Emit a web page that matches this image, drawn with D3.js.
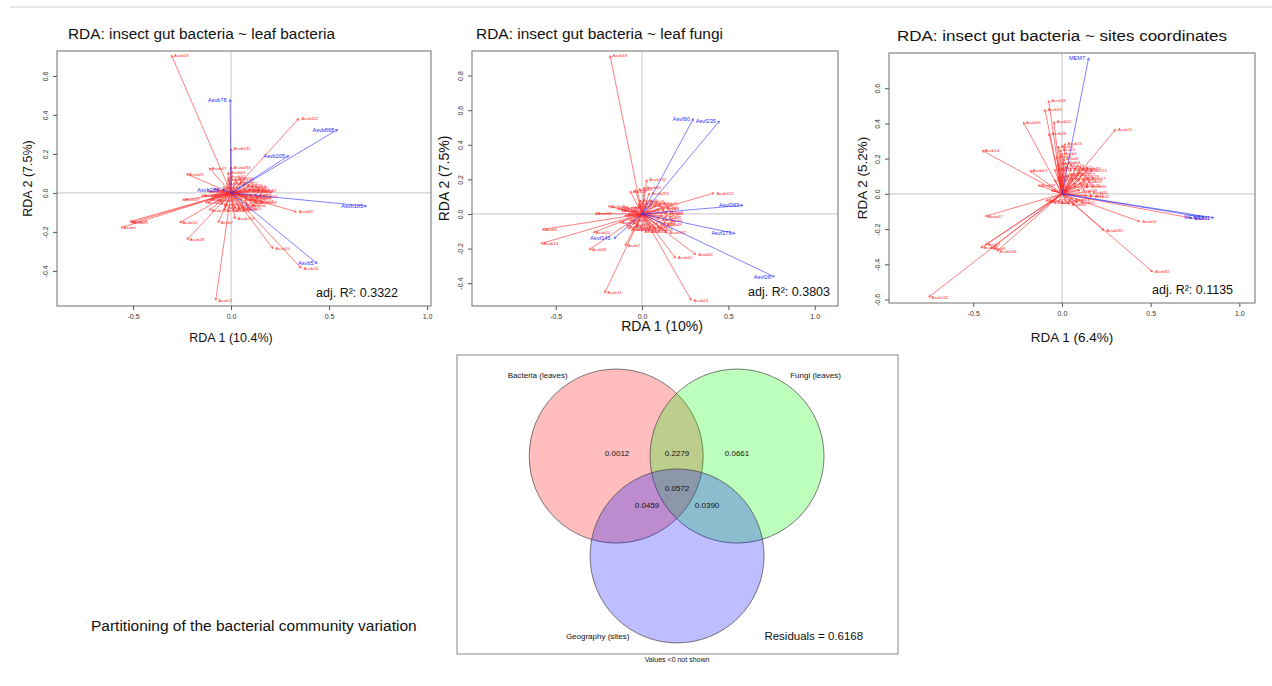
<!DOCTYPE html>
<html>
<head>
<meta charset="utf-8">
<script src="https://cdn.jsdelivr.net/npm/d3@7"></script>
<style>
body { margin: 0; background: #fff; }
svg { display: block; font-family: "Liberation Sans", Arial, Helvetica, sans-serif; }
</style>
</head>
<body>
<div id="chart"></div>
<script>
// RDA biplots + variation partitioning

// ---- data ----
var p1Titles = ["RDA: insect gut bacteria ~ leaf bacteria", "RDA 1 (10.4%)", "RDA 2 (7.5%)", "0.3322"];
var p2Titles = ["RDA: insect gut bacteria ~ leaf fungi", "RDA 1 (10%)", "RDA 2 (7.5%)", "0.3803"];
var p3Titles = ["RDA: insect gut bacteria ~ sites coordinates", "RDA 1 (6.4%)", "RDA 2 (5.2%)", "0.1135"];

var xTicks = [-0.5, 0, 0.5, 1];
var p1YTicks = [-0.4, -0.2, 0, 0.2, 0.4, 0.6];
var p2YTicks = [-0.4, -0.2, 0, 0.2, 0.4, 0.6, 0.8];
var p3YTicks = [-0.6, -0.4, -0.2, 0, 0.2, 0.4, 0.6];

// gut bacteria scores (red) for plot 1
var p1Species = [
 ["Asvb18",-0.304,0.706],["Asvb312",0.345,0.381],["Asvb132",0.0,0.226],["Asvb47",-0.111,0.128],
 ["Asvb493",0.0,0.133],["Asvb65",-0.014,0.106],["Asvb30",-0.014,0.082],["Asvb25",-0.227,0.097],
 ["Asvb37",-0.247,-0.036],["Asvb13",-0.517,-0.147],["Asvb71",-0.51,-0.152],["Asvb5",-0.56,-0.178],
 ["Asvb20",-0.261,-0.152],["Asvb28",-0.224,-0.239],["Asvb211",-0.111,-0.089],["Asvb7",-0.065,-0.152],
 ["Asvb213",0.02,-0.133],["Asvb282",0.135,-0.051],["Asvb82",0.333,-0.097],["Asvb10",0.213,-0.285],
 ["Asvb24",0.357,-0.385],["Asvb11",-0.078,-0.55],
 ["Asvb2",0.14,0.005],["Asvb3",0.13,-0.01],["Asvb4",0.12,0.02],["Asvb6",0.135,-0.025],
 ["Asvb8",0.11,0.03],["Asvb9",0.1,-0.04],["Asvb12",0.125,0.01],["Asvb15",0.09,0.035],
 ["Asvb16",0.08,-0.05],["Asvb17",0.105,-0.015],["Asvb19",0.07,0.04],["Asvb21",0.06,-0.06],
 ["Asvb22",0.05,0.05],["Asvb23",0.115,-0.03],["Asvb26",0.095,0.015],["Asvb27",0.085,-0.02],
 ["Asvb29",0.04,-0.07],["Asvb31",0.03,0.06],["Asvb32",0.02,-0.08],["Asvb33",-0.02,0.05],
 ["Asvb34",-0.04,0.03],["Asvb35",-0.06,0.01],["Asvb36",-0.08,-0.01],["Asvb38",-0.1,-0.02],
 ["Asvb39",-0.07,-0.04],["Asvb40",-0.05,-0.06],["Asvb41",-0.03,-0.075],["Asvb42",0.01,-0.09],
 ["Asvb43",0.065,-0.08],["Asvb44",0.045,-0.085],["Asvb45",-0.09,0.02],["Asvb46",-0.12,0.01],
 ["Asvb48",-0.11,-0.035],["Asvb49",0.075,0.02],["Asvb50",0.055,-0.035],["Asvb51",0.15,-0.02],
 ["Asvb52",0.145,0.015],["Asvb53",-0.015,0.07],["Asvb54",0.025,0.075],["Asvb55",-0.035,-0.09],
 ["Asvb56",0.09,-0.065],["Asvb57",0.13,-0.045],["Asvb58",-0.13,-0.05],["Asvb59",-0.15,-0.015]
];
// leaf bacteria (blue) for plot 1
var p1Env = [
 ["Asvb78",-0.005,0.479],["Asvb868",0.544,0.325],["Asvb205",0.294,0.191],
 ["Asvb105",0.691,-0.068],["Asvb5",0.439,-0.362],["Asvb288",-0.043,0.017]
];

var p2Species = [
 ["Asvb18",-0.185,0.915],["Asvb132",0.027,0.198],["Asvb90",0.012,0.154],["Asvb493",0.042,0.121],
 ["Asvb65",-0.037,0.14],["Asvb47",-0.069,0.131],["Asvb312",0.417,0.121],["Asvb25",-0.195,0.044],
 ["Asvb120",-0.012,0.05],["Asvb91",-0.272,0.002],["Asvb5",-0.577,-0.09],["Asvb14",-0.585,-0.171],
 ["Asvb20",-0.282,-0.106],["Asvb28",-0.305,-0.206],["Asvb7",-0.097,-0.183],["Asvb211",-0.079,-0.087],
 ["Asvb213",-0.05,-0.09],["Asvb282",0.143,-0.106],["Asvb10",0.193,-0.254],["Asvb82",0.311,-0.235],
 ["Asvb11",-0.216,-0.456],["Asvb24",0.284,-0.498],
 ["Asvb2",0.15,0.01],["Asvb3",0.14,-0.02],["Asvb4",0.13,0.03],["Asvb6",0.15,-0.035],
 ["Asvb8",0.12,0.04],["Asvb9",0.11,-0.05],["Asvb12",0.1,0.02],["Asvb15",0.09,-0.06],
 ["Asvb16",0.08,0.05],["Asvb17",0.07,-0.07],["Asvb19",0.06,0.06],["Asvb21",0.12,-0.01],
 ["Asvb22",0.1,-0.03],["Asvb23",0.05,-0.08],["Asvb26",0.03,0.07],["Asvb27",0.02,-0.09],
 ["Asvb29",-0.02,0.06],["Asvb30",-0.04,0.04],["Asvb31",-0.06,0.02],["Asvb33",-0.08,0.0],
 ["Asvb34",-0.1,-0.01],["Asvb35",-0.12,0.02],["Asvb36",-0.07,-0.04],["Asvb37",-0.05,-0.06],
 ["Asvb38",-0.03,-0.08],["Asvb39",0.0,-0.1],["Asvb40",0.04,-0.1],["Asvb41",-0.09,-0.07],
 ["Asvb42",-0.13,-0.05],["Asvb43",-0.14,0.03],["Asvb44",0.08,-0.09],["Asvb45",0.11,0.06],
 ["Asvb46",-0.01,0.08],["Asvb48",0.14,0.005],["Asvb49",0.13,-0.06],["Asvb50",-0.11,0.04]
];
var p2Env = [
 ["Asvf90",0.297,0.55],["Asvf235",0.448,0.537],["Asvf263",0.583,0.05],
 ["Asvf173",0.539,-0.113],["Asvf28",0.766,-0.363],["Asvf145",-0.162,-0.142]
];

var p3Species = [
 ["Asvb11",0.302,0.365],["Asvb18",-0.075,0.529],["Asvb31",-0.096,0.478],["Asvb55",-0.217,0.406],
 ["Asvb20",-0.045,0.41],["Asvb28",-0.073,0.342],["Asvb25",0.017,0.285],["Asvb14",-0.45,0.246],
 ["Asvb63",-0.18,0.132],["Asvb213",0.142,0.132],["Asvb37",-0.133,0.049],["Asvb47",-0.431,-0.127],
 ["Asvb10",0.438,-0.157],["Asvb282",0.236,-0.208],["Asvb82",0.51,-0.442],["Asvb48",-0.457,-0.306],
 ["Asvb106",-0.367,-0.325],["Asvb132",-0.751,-0.586],["Asvb24",0.733,-0.138],
 ["Asvb5",-0.40,-0.31],["Asvb7",-0.43,-0.29],
 ["Asvb2",-0.02,0.27],["Asvb3",-0.01,0.25],["Asvb4",0.0,0.23],["Asvb6",-0.03,0.21],
 ["Asvb8",0.01,0.2],["Asvb9",0.02,0.18],["Asvb12",-0.02,0.17],["Asvb15",0.03,0.16],
 ["Asvb16",0.0,0.15],["Asvb17",-0.04,0.14],["Asvb19",0.05,0.14],["Asvb21",0.08,0.15],
 ["Asvb22",0.1,0.14],["Asvb23",0.12,0.145],["Asvb26",0.07,0.12],["Asvb27",0.09,0.11],
 ["Asvb29",0.11,0.1],["Asvb30",0.06,0.09],["Asvb32",0.1,0.08],["Asvb33",0.13,0.07],
 ["Asvb34",0.08,0.06],["Asvb35",0.12,0.05],["Asvb36",0.15,0.04],["Asvb38",0.05,0.04],
 ["Asvb39",0.1,0.02],["Asvb40",0.16,0.01],["Asvb41",0.14,-0.01],["Asvb42",0.17,-0.015],
 ["Asvb43",0.06,-0.03],["Asvb44",0.02,-0.04],["Asvb45",-0.02,-0.05],["Asvb46",-0.06,-0.05],
 ["Asvb49",-0.09,-0.04],["Asvb50",0.04,-0.06],["Asvb51",0.09,-0.05],["Asvb52",-0.04,0.08],
 ["Asvb53",-0.06,0.02],["Asvb54",-0.02,0.1],["Asvb56",0.03,0.11],["Asvb57",0.15,0.09]
];
var p3Env = [["MEM7",0.15,0.771],["MEM1",0.855,-0.136],["MEM3",0.80,-0.133]];

// variation partitioning
var vennSets = ["Bacteria (leaves)", "Fungi (leaves)", "Geography (sites)"];
var vennFractions = ["0.0012", "0.2279", "0.0661", "0.0572", "0.0459", "0.0390"];
var vennResidual = "0.6168";

// ---- drawing ----
var W = 1272, H = 686;
var svg = d3.select("#chart").append("svg")
 .attr("width", W)
 .attr("height", H);

svg.append("line")
 .attr("x1", 10).attr("x2", W).attr("y1", 7).attr("y2", 7)
 .attr("stroke", "#dcdcdc").attr("stroke-width", 1.5);

function arrows(g, x, y, rows, color, width, fsize, side) {
 var sel = g.selectAll(null).data(rows).enter().append("g");
 sel.append("line")
  .attr("x1", x(0)).attr("y1", y(0))
  .attr("x2", function(d) { return x(d[1]); })
  .attr("y2", function(d) { return y(d[2]); })
  .attr("stroke", color).attr("stroke-width", width);
 // tiny arrow heads
 sel.append("path")
  .attr("d", function(d) {
   var tx = x(d[1]), ty = y(d[2]);
   var a = Math.atan2(ty - y(0), tx - x(0)), L = 2.6, s = 0.5;
   return "M" + (tx - L * Math.cos(a - s)) + "," + (ty - L * Math.sin(a - s)) +
    "L" + tx + "," + ty +
    "L" + (tx - L * Math.cos(a + s)) + "," + (ty - L * Math.sin(a + s));
  })
  .attr("fill", "none").attr("stroke", color).attr("stroke-width", width);
 sel.append("text")
  .attr("x", function(d) { return x(d[1]) + (side > 0 ? 2.5 : -3.5); })
  .attr("y", function(d) { return y(d[2]); })
  .attr("dy", "0.35em")
  .attr("text-anchor", side > 0 ? "start" : "end")
  .attr("font-size", fsize + "px")
  .attr("fill", color)
  .text(function(d) { return d[0]; });
}

function biplot(p) {
 var x = d3.scaleLinear().domain(p.xd).range([p.left, p.right]);
 var y = d3.scaleLinear().domain(p.yd).range([p.bottom, p.top]);
 var g = svg.append("g");

 g.append("text")
  .attr("x", p.titleX).attr("y", p.titleY)
  .attr("font-size", "15.5px").attr("fill", "#111")
  .attr("textLength", p.titleW).attr("lengthAdjust", "spacingAndGlyphs")
  .text(p.titles[0]);

 // zero lines
 g.append("line").attr("x1", x(0)).attr("x2", x(0)).attr("y1", p.top).attr("y2", p.bottom)
  .attr("stroke", "#cfcfcf").attr("stroke-width", 1.2);
 g.append("line").attr("x1", p.left).attr("x2", p.right).attr("y1", y(0)).attr("y2", y(0))
  .attr("stroke", "#cfcfcf").attr("stroke-width", 1.2);

 arrows(g, x, y, p.species, "#ff2a2a", 0.6, 4.4, 1);
 arrows(g, x, y, p.env, "#2b2bff", 0.6, 5.6, -1);

 g.append("rect")
  .attr("x", p.left).attr("y", p.top)
  .attr("width", p.right - p.left).attr("height", p.bottom - p.top)
  .attr("fill", "none").attr("stroke", "#7a7a7a").attr("stroke-width", 1.1);

 var fmt = function(d) { return d.toFixed(1); };
 var xa = g.append("g")
  .attr("transform", "translate(0," + p.bottom + ")")
  .call(d3.axisBottom(x).tickValues(xTicks).tickSize(4).tickPadding(4).tickFormat(fmt));
 var ya = g.append("g")
  .attr("transform", "translate(" + p.left + ",0)")
  .call(d3.axisLeft(y).tickValues(p.yTicks).tickSize(4).tickFormat(fmt));
 [xa, ya].forEach(function(a) {
  a.select(".domain").remove();
  a.selectAll("line").attr("stroke", "#555");
  a.selectAll("text").attr("font-size", "7px").attr("fill", "#333").attr("font-family", null);
 });
 ya.selectAll("text")
  .attr("transform", "rotate(-90)")
  .attr("x", 0).attr("y", -11).attr("dy", "0.32em")
  .attr("text-anchor", "middle");

 g.append("text")
  .attr("x", p.xlabX).attr("y", p.xlabY)
  .attr("text-anchor", "middle").attr("font-size", p.labSize + "px").attr("fill", "#111")
  .text(p.titles[1]);
 g.append("text")
  .attr("transform", "translate(" + p.ylabX + "," + ((p.top + p.bottom) / 2) + ") rotate(-90)")
  .attr("text-anchor", "middle").attr("font-size", p.labSize + "px").attr("fill", "#111")
  .text(p.titles[2]);

 var r2 = g.append("text")
  .attr("x", p.r2X).attr("y", p.r2Y)
  .attr("font-size", "12.5px").attr("fill", "#111");
 r2.text("adj. R\u00b2: " + p.titles[3]);
}

biplot({ titles: p1Titles, species: p1Species, env: p1Env, yTicks: p1YTicks,
 left: 57, right: 431, top: 51, bottom: 306, xd: [-0.888, 1.02], yd: [-0.58, 0.728],
 titleX: 68, titleY: 39, titleW: 267, xlabX: 231, xlabY: 342, ylabX: 32, labSize: 12.5, r2X: 316, r2Y: 297 });

biplot({ titles: p2Titles, species: p2Species, env: p2Env, yTicks: p2YTicks,
 left: 472, right: 838, top: 51, bottom: 306, xd: [-0.985, 1.135], yd: [-0.532, 0.942],
 titleX: 476, titleY: 39, titleW: 247, xlabX: 662, xlabY: 331, ylabX: 449, labSize: 14, r2X: 748, r2Y: 296 });

biplot({ titles: p3Titles, species: p3Species, env: p3Env, yTicks: p3YTicks,
 left: 889, right: 1255, top: 53, bottom: 303, xd: [-0.975, 1.088], yd: [-0.62, 0.80],
 titleX: 897, titleY: 41, titleW: 330, xlabX: 1072, xlabY: 342, ylabX: 867, labSize: 13.5, r2X: 1152, r2Y: 294 });

// ---- Venn diagram of variation partitioning ----
var vx = d3.scaleLinear().domain([0, 1]).range([457, 898]);
var vy = d3.scaleLinear().domain([0, 1]).range([355, 654]);
var circleLayout = [[0.361, 0.338, "#ff0000"], [0.635, 0.338, "#00ff00"], [0.499, 0.672, "#0000ff"]];
var r = 87;

svg.append("rect")
 .attr("x", vx(0)).attr("y", vy(0))
 .attr("width", vx(1) - vx(0)).attr("height", vy(1) - vy(0))
 .attr("fill", "none").attr("stroke", "#9a9a9a").attr("stroke-width", 1.2);

svg.selectAll(".vc").data(circleLayout).enter().append("circle")
 .attr("class", "vc")
 .attr("cx", function(d) { return vx(d[0]); })
 .attr("cy", function(d) { return vy(d[1]); })
 .attr("r", r)
 .attr("fill", function(d) { return d[2]; })
 .attr("fill-opacity", 0.26)
 .attr("stroke", "#444").attr("stroke-width", 0.7);

var setLabelPos = [[0.183, 0.066], [0.813, 0.066], [0.319, 0.94]];
svg.selectAll(".vs").data(vennSets).enter().append("text")
 .attr("class", "vs")
 .attr("x", function(d, i) { return vx(setLabelPos[i][0]); })
 .attr("y", function(d, i) { return vy(setLabelPos[i][1]); })
 .attr("dy", "0.35em").attr("text-anchor", "middle")
 .attr("font-size", "8px").attr("fill", "#111")
 .text(function(d) { return d; });

var fracPos = [[0.363, 0.328], [0.499, 0.328], [0.635, 0.328], [0.499, 0.445], [0.431, 0.502], [0.567, 0.502]];
svg.selectAll(".vf").data(vennFractions).enter().append("text")
 .attr("class", "vf")
 .attr("x", function(d, i) { return vx(fracPos[i][0]); })
 .attr("y", function(d, i) { return vy(fracPos[i][1]); })
 .attr("dy", "0.35em").attr("text-anchor", "middle")
 .attr("font-size", "8px").attr("fill", "#111")
 .text(function(d) { return d; });

svg.append("text")
 .attr("x", vx(0.697)).attr("y", vy(0.94))
 .attr("dy", "0.35em")
 .attr("font-size", "11.5px").attr("fill", "#111")
 .text("Residuals = " + vennResidual);

svg.append("text")
 .attr("x", vx(0.499)).attr("y", 660)
 .attr("dy", "0.35em").attr("text-anchor", "middle")
 .attr("font-size", "7px").attr("fill", "#111")
 .text("Values <0 not shown");

svg.append("text")
 .attr("x", 91).attr("y", 631)
 .attr("font-size", "15.5px").attr("fill", "#111")
 .text("Partitioning of the bacterial community variation");
</script>
</body>
</html>
